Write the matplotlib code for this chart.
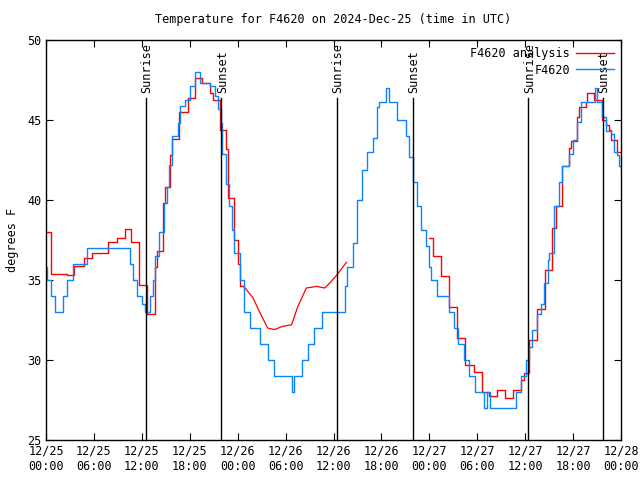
import matplotlib
matplotlib.use("Agg")
import matplotlib.pyplot as plt

# hours since 2024-12-25 00:00 UTC
obs_hours = [0, 0.1, 0.6, 1.1, 2.1, 2.6, 3.4, 5.1, 10.5, 10.9, 11.4, 12.0, 12.4,
             13.0, 13.4, 13.7, 14.2, 14.8, 15.1, 15.4, 15.75, 16.5, 16.75, 17.4,
             18.0, 18.6, 19.3, 20.5, 21.1, 21.5, 21.9, 22.1, 22.6, 22.9, 23.3,
             23.6, 24.25, 24.75, 25.5, 26.75, 27.75, 28.5, 30.75, 31.0, 32.0,
             32.75, 33.6, 34.5, 37.5, 37.75, 38.4, 39.0, 39.6, 40.25, 40.9, 41.4,
             41.75, 42.6, 43.0, 44.0, 45.1, 45.5, 45.9, 46.5, 47.0, 47.6, 48.0,
             48.25, 48.9, 50.5, 51.1, 51.6, 52.4, 53.0, 53.75, 54.9, 55.25, 55.6,
             58.9, 59.5, 60.1, 60.5, 60.9, 61.5, 62.0, 62.4, 62.9, 63.0, 63.6,
             64.25, 64.6, 65.5, 66.0, 66.5, 67.0, 68.75, 69.0, 69.6, 70.1, 70.75,
             71.1, 71.5, 71.75, 72.0]
obs_temp = [35.8, 35.0, 34.0, 33.0, 34.0, 35.0, 36.0, 37.0, 36.0, 35.0, 34.0, 33.5, 33.0,
            34.0, 35.0, 36.5, 38.0, 39.8, 40.8, 42.2, 44.0, 44.8, 45.9, 46.25,
            47.1, 48.0, 47.3, 47.1, 46.5, 45.7, 44.8, 42.9, 41.0, 39.6, 38.1,
            36.7, 35.0, 33.0, 32.0, 31.0, 30.0, 29.0, 28.0, 29.0, 30.0,
            31.0, 32.0, 33.0, 34.6, 35.8, 37.3, 40.0, 41.9, 43.0, 43.9, 45.8,
            46.1, 47.0, 46.1, 45.0, 44.0, 42.7, 41.1, 39.6, 38.1, 37.1, 35.8,
            35.0, 34.0, 33.0, 32.0, 31.0, 30.0, 29.0, 28.0, 27.0, 28.0, 27.0,
            28.0, 29.0, 30.0, 30.8, 31.9, 32.9, 33.5, 34.8, 36.25, 36.7, 39.6,
            41.1, 42.1, 42.9, 43.75, 44.9, 46.1, 47.0, 46.1, 45.2, 44.3, 44.1,
            43.0, 42.8, 42.1, 42.0]

ana1_hours = [0, 0.6, 2.6, 3.5, 4.75, 5.75, 7.75, 8.9, 9.9, 10.6, 11.6, 12.6,
              13.6, 13.9, 14.6, 14.9, 15.5, 15.75, 16.6, 17.75, 18.6, 19.5, 20.5,
              20.9, 21.75, 22.6, 22.75, 23.6, 24.0, 24.25, 24.75]
ana1_temp = [38.0, 35.4, 35.3, 35.9, 36.4, 36.7, 37.4, 37.6, 38.2, 37.4, 34.7, 32.9,
             35.8, 36.8, 39.8, 40.8, 42.8, 43.8, 45.5, 46.4, 47.6, 47.3, 46.7,
             46.25, 44.4, 43.2, 40.1, 37.5, 36.0, 34.6, 34.6]

ana2_hours = [24.75, 25.9, 26.75, 27.75, 28.6, 29.6, 30.75, 31.5, 32.6, 33.9,
              34.9, 35.5, 36.4, 37.6]
ana2_temp = [34.6, 33.9, 33.0, 32.0, 31.9, 32.1, 32.2, 33.3, 34.5, 34.6,
             34.5, 34.8, 35.3, 36.1]

ana3_hours = [47.9, 48.4, 49.5, 50.5, 51.5, 52.5, 53.6, 54.6, 55.5, 56.5, 57.5,
              58.5, 59.5, 59.9, 60.5, 61.5, 62.5, 63.4, 63.9, 64.6, 65.5, 65.75,
              66.5, 66.75, 67.6, 67.75, 68.6, 69.6, 70.1, 70.5, 70.75, 71.5, 72.0]
ana3_temp = [37.6, 36.5, 35.25, 33.3, 31.4, 29.7, 29.25, 28.0, 27.75, 28.1, 27.6,
             28.1, 28.75, 29.2, 31.25, 33.2, 35.6, 38.25, 39.6, 42.1, 43.25, 43.7,
             45.2, 45.8, 46.1, 46.7, 46.25, 45.0, 44.7, 44.4, 43.75, 43.0, 43.0]

sunrise_hours = [12.5, 36.4, 60.4]
sunset_hours = [21.95, 45.9, 69.75]

tick_hours = list(range(0, 73, 6))
tick_labels = ["12/25\n00:00", "12/25\n06:00", "12/25\n12:00", "12/25\n18:00",
               "12/26\n00:00", "12/26\n06:00", "12/26\n12:00", "12/26\n18:00",
               "12/27\n00:00", "12/27\n06:00", "12/27\n12:00", "12/27\n18:00",
               "12/28\n00:00"]

plt.rcParams["font.family"] = ["DejaVu Sans Mono"]
plt.rcParams["font.size"] = 8

fig = plt.figure(figsize=(6.4, 4.8), dpi=100)
ax = fig.add_axes([46 / 640, 40 / 480, 575 / 640, 400 / 480])

red = "#ff0000"
blue = "#0a84ff"

ax.plot(ana1_hours, ana1_temp, color=red, lw=1.0, drawstyle="steps-post",
        label="F4620 analysis")
ax.plot(ana2_hours, ana2_temp, color=red, lw=0.9)
ax.plot(ana3_hours, ana3_temp, color=red, lw=1.0, drawstyle="steps-post")
ax.plot(obs_hours, obs_temp, color=blue, lw=1.0, drawstyle="steps-post",
        label="F4620")

for h in sunrise_hours:
    ax.plot([h, h], [25, 46.35], color="black", lw=1.0)
    ax.text(h + 0.15, 46.7, "Sunrise", rotation=90, ha="center", va="bottom",
            fontsize=8.5)
for h in sunset_hours:
    ax.plot([h, h], [25, 46.35], color="black", lw=1.0)
    ax.text(h + 0.15, 46.7, "Sunset", rotation=90, ha="center", va="bottom",
            fontsize=8.5)

ax.set_xlim(0, 72)
ax.set_ylim(25, 50)
ax.set_xticks(tick_hours)
ax.set_xticklabels(tick_labels)
ax.set_yticks([25, 30, 35, 40, 45, 50])
ax.tick_params(direction="in", length=5, top=True, right=True, labelsize=8.5)
ax.set_ylabel("degrees F", fontsize=8.5, labelpad=6)
ax.set_title("Temperature for F4620 on 2024-Dec-25 (time in UTC)", fontsize=8.5, pad=12)
for s in ax.spines.values():
    s.set_linewidth(1.0)

ax.legend(loc="upper right", frameon=False, markerfirst=False, handlelength=3.2,
          fontsize=8.5, borderaxespad=0.2, labelspacing=0.3, handletextpad=0.5)

fig.savefig("out.png", dpi=100)
